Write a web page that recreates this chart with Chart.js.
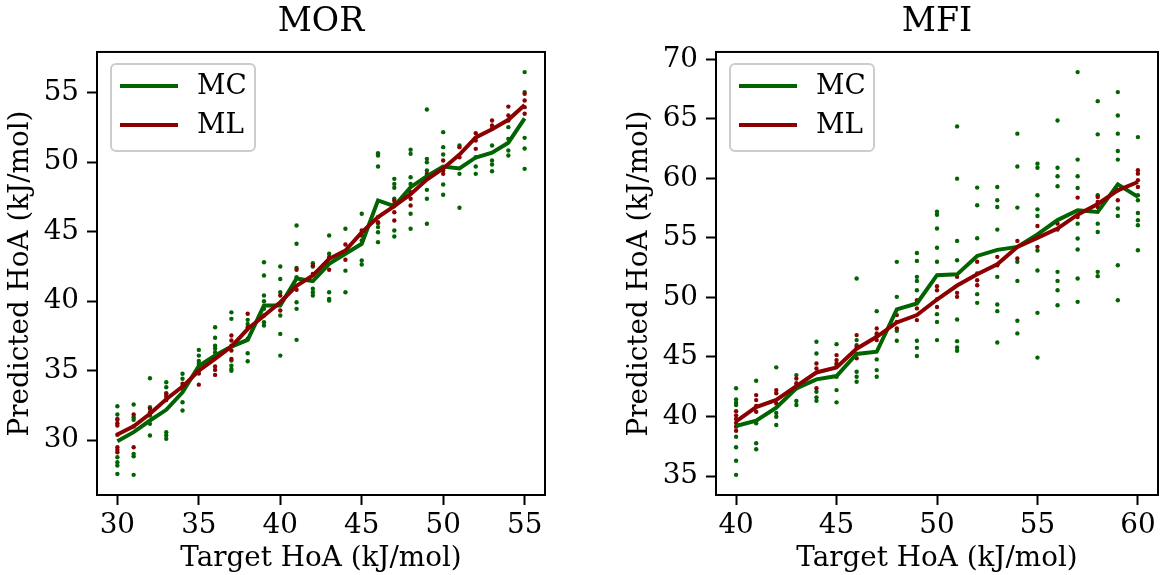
<!DOCTYPE html>
<html>
<head>
<meta charset="utf-8">
<title>Predicted vs target HoA</title>
<script src="https://cdn.jsdelivr.net/npm/chart.js@4.4.1/dist/chart.umd.min.js"></script>
<style>
  html, body { margin: 0; padding: 0; background: #fff; }
  #wrap { position: relative; width: 1162px; height: 575px; }
  canvas { position: absolute; top: 0; }
  #chartMOR { left: 0; }
  #chartMFI { left: 581px; }
</style>
</head>
<body>
<div id="wrap">
  <canvas id="chartMOR" width="581" height="575"></canvas>
  <canvas id="chartMFI" width="581" height="575"></canvas>
</div>
<script>
/* global Chart */

// ---- MOR ----
var morX = [30, 31, 32, 33, 34, 35, 36, 37, 38, 39, 40, 41, 42, 43, 44, 45, 46, 47, 48, 49, 50, 51, 52, 53, 54, 55];
var morMC = [29.93, 30.58, 31.42, 32.19, 33.45, 35.35, 36.09, 36.74, 37.22, 39.69, 39.69, 41.63, 41.44, 42.69, 43.41, 44.13, 47.25, 46.84, 48.2, 49.0, 49.69, 49.55, 50.34, 50.68, 51.4, 53.15];
var morML = [30.41, 31.0, 31.9, 32.95, 33.86, 35.0, 35.85, 36.74, 38.0, 38.95, 39.93, 41.1, 41.85, 43.05, 43.65, 44.95, 46.05, 46.84, 47.7, 48.75, 49.55, 50.55, 51.78, 52.37, 53.05, 54.12];
var morMCpts = [
  [32.45, 31.85, 31.54, 28.78, 28.42, 28.18, 27.58],
  [32.57, 31.65, 31.47, 29.02, 28.85, 27.51],
  [34.46, 32.37, 31.78, 31.18, 30.34],
  [34.17, 33.81, 33.33, 30.58, 30.34, 30.1],
  [34.78, 34.42, 33.7, 32.73, 32.14],
  [36.5, 36.09, 35.7, 35.5],
  [38.13, 37.37, 36.8, 36.6, 36.33, 35.97],
  [39.2, 38.73, 35.73, 35.37, 35.13, 35.0],
  [38.66, 38.37, 37.3, 36.26, 35.68],
  [42.8, 41.85, 40.41, 40.0, 39.45, 38.49, 38.25],
  [42.5, 41.6, 40.65, 38.97, 37.65, 36.09],
  [45.45, 44.13, 42.4, 41.73, 39.93, 39.45, 37.22],
  [42.73, 42.5, 40.9, 40.65, 40.41],
  [44.73, 43.41, 40.65, 40.17, 40.05],
  [45.21, 42.2, 40.65],
  [46.29, 44.37, 42.93, 42.64],
  [50.65, 50.48, 49.69, 45.61, 45.33, 44.96, 44.25],
  [48.8, 48.44, 48.16, 47.37, 45.09, 44.65],
  [50.9, 50.6, 48.92, 48.44, 46.29, 45.21],
  [53.79, 50.24, 50.0, 49.4, 48.01, 47.37, 45.57],
  [52.16, 51.08, 50.55, 49.64, 48.4, 47.66],
  [51.2, 49.16, 46.72],
  [50.36, 49.69, 49.16],
  [51.2, 50.12, 49.83, 49.35],
  [52.52, 51.68, 50.84, 50.48],
  [56.48, 55.04, 51.75, 50.98, 49.52]
];
var morMLpts = [
  [31.47, 31.22, 31.06, 30.4, 29.5, 29.31, 29.14],
  [31.85, 31.0, 29.5],
  [32.26, 32.0],
  [33.38, 33.14, 32.9],
  [34.06, 33.86],
  [35.0, 34.8, 34.0],
  [35.3, 35.06, 34.7],
  [37.53, 37.17, 36.8, 36.45, 35.85],
  [39.1, 38.13],
  [38.97],
  [40.41, 39.33],
  [42.26, 40.82],
  [42.57, 41.97],
  [43.17, 42.26],
  [44.08, 43.53, 42.98],
  [45.09, 44.73],
  [46.05, 45.68],
  [47.24, 47.0, 46.4, 45.81],
  [47.84, 47.37, 46.88],
  [49.16, 48.88],
  [50.12, 49.4, 49.16],
  [51.08, 50.36],
  [52.09, 51.56, 50.96],
  [53.0, 52.64, 52.4],
  [54.0, 53.36, 53.0],
  [54.92, 54.44, 53.96, 53.48]
];
var morXTicks = [30, 35, 40, 45, 50, 55];
var morYTicks = [30, 35, 40, 45, 50, 55];

// ---- MFI ----
var mfiX = [40, 41, 42, 43, 44, 45, 46, 47, 48, 49, 50, 51, 52, 53, 54, 55, 56, 57, 58, 59, 60];
var mfiMC = [39.2, 39.65, 40.75, 42.37, 43.12, 43.4, 45.25, 45.44, 49.0, 49.5, 51.87, 51.94, 53.49, 54.0, 54.25, 55.3, 56.5, 57.32, 57.18, 59.5, 58.45];
var mfiML = [39.6, 40.8, 41.4, 42.56, 43.7, 44.13, 45.7, 46.7, 47.9, 48.52, 49.83, 51.0, 51.95, 52.79, 54.25, 55.0, 55.79, 56.95, 57.85, 59.0, 59.7];
var mfiMCpts = [
  [42.37, 41.44, 41.16, 40.97, 38.3, 37.42, 36.29, 35.1],
  [43.0, 39.43, 37.75, 37.25],
  [44.13, 40.3, 39.98, 39.29],
  [43.48, 42.56, 41.3, 40.97],
  [46.28, 45.3, 42.08, 41.61, 41.33],
  [46.08, 44.32, 43.34, 42.22, 41.19],
  [51.59, 46.42, 46.0, 43.76, 43.34, 42.92],
  [48.85, 46.84, 44.8, 43.9, 43.34],
  [52.99, 50.05, 47.2, 46.36],
  [53.74, 53.07, 51.73, 51.39, 50.61, 46.36, 45.77, 45.08],
  [57.2, 56.95, 55.79, 54.17, 53.0, 48.6, 47.95, 46.42],
  [64.37, 59.98, 54.75, 53.13, 48.15, 46.33, 45.8, 45.52],
  [59.23, 57.74, 54.97, 50.28, 49.55],
  [59.28, 58.16, 57.6, 55.7, 51.73, 49.41, 48.85, 46.22],
  [63.76, 61.0, 57.55, 53.0, 51.39, 48.04, 46.98],
  [61.24, 60.9, 58.58, 57.4, 56.84, 53.95, 52.26, 48.71, 44.95],
  [64.87, 60.9, 60.18, 59.34, 52.15, 51.39, 50.61, 49.35],
  [68.93, 61.58, 60.18, 59.2, 56.2, 54.95, 54.03, 51.59, 49.63],
  [66.49, 63.7, 58.58, 56.2, 55.5, 52.15, 51.79],
  [67.25, 65.29, 63.76, 62.3, 61.58, 57.47, 56.85, 52.71, 49.77],
  [63.47, 58.58, 58.16, 57.1, 56.48, 56.07, 53.97]
];
var mfiMLpts = [
  [40.45, 40.1, 39.8, 39.45, 39.15, 38.8],
  [41.8, 41.38, 40.88, 40.4],
  [42.22, 41.95, 41.1],
  [43.2, 42.79, 42.37],
  [44.46, 44.04, 42.37],
  [45.16, 44.74, 44.46],
  [46.84, 45.86, 44.9],
  [47.4, 46.98, 46.42],
  [48.52, 47.95, 47.4],
  [49.77, 49.08, 48.1],
  [50.95, 50.61, 49.85, 49.2],
  [51.73, 50.39, 50.05],
  [53.0, 52.01, 51.45, 51.03],
  [53.41, 52.71],
  [54.75, 53.27],
  [56.0, 55.2, 54.25],
  [56.2, 55.7],
  [58.39, 56.76],
  [58.44, 58.02, 57.6],
  [59.0, 58.16],
  [60.68, 60.4, 59.84, 59.28]
];
var mfiXTicks = [40, 45, 50, 55, 60];
var mfiYTicks = [35, 40, 45, 50, 55, 60, 65, 70];

var COR_MC = "#006400";
var COR_ML = "#8b0000";
var FONTE = "'DejaVu Serif', 'Liberation Serif', serif";
var TAM = 27.8;

function linha(xs, ys) {
  return xs.map(function (x, i) { return { x: x, y: ys[i] }; });
}

function pontos(xs, grupos) {
  var out = [];
  xs.forEach(function (x, i) {
    grupos[i].forEach(function (y) { out.push({ x: x, y: y }); });
  });
  return out;
}

// autoscale like matplotlib: 5% margin on each side
function limites(vals) {
  var lo = Math.min.apply(null, vals);
  var hi = Math.max.apply(null, vals);
  var m = (hi - lo) * 0.05;
  return [lo - m, hi + m];
}

function achatar(grupos) {
  return grupos.reduce(function (a, g) { return a.concat(g); }, []);
}

// axes frame, drawn above the data like matplotlib spines
var moldura = {
  id: "moldura",
  afterDatasetsDraw: function (chart) {
    var a = chart.chartArea;
    var ctx = chart.ctx;
    ctx.save();
    ctx.strokeStyle = "#000";
    ctx.lineWidth = 2;
    ctx.strokeRect(a.left, a.top, a.right - a.left, a.bottom - a.top);
    ctx.restore();
  }
};

// legend box in the upper left corner of the axes
var legendaCaixa = {
  id: "legendaCaixa",
  afterDraw: function (chart) {
    var a = chart.chartArea;
    var ctx = chart.ctx;
    var itens = chart.data.datasets.filter(function (d) { return d.showLine; });
    var bx = a.left + 14, by = a.top + 12, bw = 144, bh = 87, r = 5;
    ctx.save();
    ctx.beginPath();
    ctx.moveTo(bx + r, by);
    ctx.arcTo(bx + bw, by, bx + bw, by + bh, r);
    ctx.arcTo(bx + bw, by + bh, bx, by + bh, r);
    ctx.arcTo(bx, by + bh, bx, by, r);
    ctx.arcTo(bx, by, bx + bw, by, r);
    ctx.closePath();
    ctx.fillStyle = "rgba(255,255,255,0.8)";
    ctx.fill();
    ctx.strokeStyle = "#cccccc";
    ctx.lineWidth = 2;
    ctx.stroke();

    ctx.font = TAM + "px " + FONTE;
    ctx.textBaseline = "middle";
    ctx.textAlign = "left";
    itens.forEach(function (d, i) {
      var y = a.top + 34 + i * 39;
      ctx.beginPath();
      ctx.moveTo(a.left + 23, y);
      ctx.lineTo(a.left + 81, y);
      ctx.strokeStyle = d.borderColor;
      ctx.lineWidth = 4;
      ctx.stroke();
      ctx.fillStyle = "#000";
      ctx.fillText(d.label, a.left + 100, y + 1);
    });
    ctx.restore();
  }
};

function fixarTicks(lista) {
  return function (axis) {
    axis.ticks = lista.map(function (v) { return { value: v }; });
  };
}

function desenharPainel(canvas, cfg) {
  var xl = limites(cfg.xs);
  var yl = limites(achatar(cfg.mcPts).concat(achatar(cfg.mlPts), cfg.mc, cfg.ml));

  var eixoGrid = {
    display: true,
    drawOnChartArea: false,
    drawTicks: true,
    tickLength: 10,
    tickWidth: 2,
    tickColor: "#000"
  };

  new Chart(canvas.getContext("2d"), {
    type: "scatter",
    data: {
      // array order = legend order; "order" = drawing order (0 on top)
      datasets: [
        {
          label: "MC",
          data: linha(cfg.xs, cfg.mc),
          showLine: true,
          borderColor: COR_MC,
          borderWidth: 4,
          pointRadius: 0,
          tension: 0,
          order: 1
        },
        {
          label: "ML",
          data: linha(cfg.xs, cfg.ml),
          showLine: true,
          borderColor: COR_ML,
          borderWidth: 4,
          pointRadius: 0,
          tension: 0,
          order: 0
        },
        {
          label: "ML pontos",
          data: pontos(cfg.xs, cfg.mlPts),
          showLine: false,
          backgroundColor: COR_ML,
          pointRadius: 2.2,
          pointBorderWidth: 0,
          order: 2
        },
        {
          label: "MC pontos",
          data: pontos(cfg.xs, cfg.mcPts),
          showLine: false,
          backgroundColor: COR_MC,
          pointRadius: 2.2,
          pointBorderWidth: 0,
          order: 3
        }
      ]
    },
    options: {
      responsive: false,
      animation: false,
      events: [],
      layout: { padding: { left: cfg.padLeft, right: cfg.padRight, top: 0, bottom: 0 } },
      plugins: {
        legend: { display: false },
        tooltip: { enabled: false },
        title: {
          display: true,
          fullSize: false,
          text: cfg.titulo,
          color: "#000",
          font: { family: FONTE, size: 33.3, weight: "normal" },
          padding: { top: 2, bottom: 10 }
        }
      },
      scales: {
        x: {
          type: "linear",
          min: xl[0],
          max: xl[1],
          afterBuildTicks: fixarTicks(cfg.xTicks),
          afterFit: function (s) { s.height = 80; },
          grid: eixoGrid,
          border: { display: false },
          ticks: {
            color: "#000",
            font: { family: FONTE, size: TAM },
            padding: 4,
            autoSkip: false,
            maxRotation: 0
          },
          title: {
            display: true,
            text: "Target HoA (kJ/mol)",
            color: "#000",
            font: { family: FONTE, size: TAM },
            padding: { top: 0, bottom: 0 }
          }
        },
        y: {
          type: "linear",
          min: yl[0],
          max: yl[1],
          afterBuildTicks: fixarTicks(cfg.yTicks),
          afterFit: function (s) { s.width = 97; },
          grid: eixoGrid,
          border: { display: false },
          ticks: {
            color: "#000",
            font: { family: FONTE, size: TAM },
            padding: 8,
            autoSkip: false
          },
          title: {
            display: true,
            text: "Predicted HoA (kJ/mol)",
            color: "#000",
            font: { family: FONTE, size: TAM },
            padding: { top: 4, bottom: 0 }
          }
        }
      }
    },
    plugins: [moldura, legendaCaixa]
  });
}

document.addEventListener("DOMContentLoaded", function () {
  if (typeof Chart === "undefined") {
    console.error("Chart.js not loaded");
    return;
  }

  desenharPainel(document.getElementById("chartMOR"), {
    titulo: "MOR",
    xs: morX, mc: morMC, ml: morML, mcPts: morMCpts, mlPts: morMLpts,
    xTicks: morXTicks, yTicks: morYTicks,
    padLeft: 0, padRight: 36
  });

  desenharPainel(document.getElementById("chartMFI"), {
    titulo: "MFI",
    xs: mfiX, mc: mfiMC, ml: mfiML, mcPts: mfiMCpts, mlPts: mfiMLpts,
    xTicks: mfiXTicks, yTicks: mfiYTicks,
    padLeft: 38, padRight: 1
  });
});
</script>
</body>
</html>
